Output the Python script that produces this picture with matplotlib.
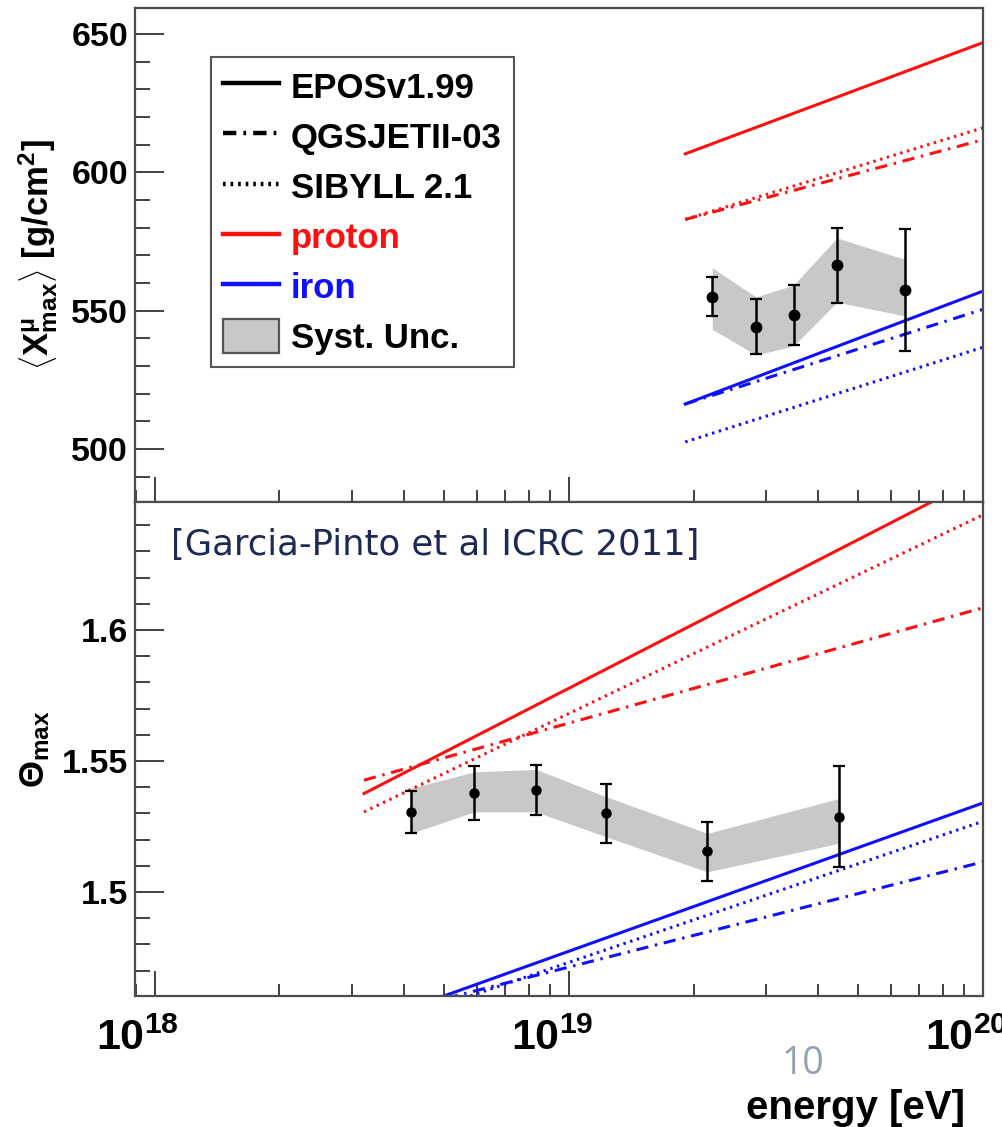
import numpy as np
import matplotlib
matplotlib.use('Agg')
import matplotlib.pyplot as plt
from matplotlib.lines import Line2D
from matplotlib.patches import Patch
from matplotlib.ticker import FixedLocator, FixedFormatter, MultipleLocator, LogLocator, NullFormatter
import matplotlib.transforms as mtrans

plt.rcParams['font.family'] = ['Liberation Sans', 'DejaVu Sans']
plt.rcParams['font.weight'] = 'bold'
plt.rcParams['axes.labelweight'] = 'bold'
plt.rcParams['mathtext.fontset'] = 'custom'
plt.rcParams['mathtext.rm'] = 'Liberation Sans:bold'
plt.rcParams['mathtext.it'] = 'Liberation Sans:bold'
plt.rcParams['mathtext.bf'] = 'Liberation Sans:bold'
plt.rcParams['mathtext.sf'] = 'Liberation Sans:bold'

# ---------------- data: top panel  <X^mu_max> [g/cm^2]
model_energy_top = [1.91e19, 1.0e20]
xmu_proton_epos = [606.7, 646.9]
xmu_proton_qgsjet = [583.0, 611.8]
xmu_proton_sibyll = [583.0, 616.1]
xmu_iron_epos = [516.3, 557.1]
xmu_iron_qgsjet = [516.3, 550.5]
xmu_iron_sibyll = [502.6, 536.8]

data_energy_top = [2.22e19, 2.83e19, 3.49e19, 4.44e19, 6.50e19]
xmu_data = [555.1, 544.3, 548.4, 566.4, 557.5]
xmu_stat = [7.0, 10.0, 10.8, 13.6, 21.9]
xmu_syst_hi = [565.5, 555.0, 559.3, 576.3, 568.5]
xmu_syst_lo = [543.3, 534.0, 537.3, 553.1, 548.1]

# ---------------- data: bottom panel  Theta_max
model_energy_bot = [3.2e18, 1.0e20]
theta_proton_epos = [1.5376, 1.659]
theta_proton_qgsjet = [1.5427, 1.6085]
theta_proton_sibyll = [1.5306, 1.644]
theta_iron_epos = [1.4494, 1.5340]
theta_iron_qgsjet = [1.4515, 1.5115]
theta_iron_sibyll = [1.4465, 1.5270]

data_energy_bot = [4.15e18, 5.91e18, 8.34e18, 1.229e19, 2.16e19, 4.49e19]
theta_data = [1.5306, 1.5379, 1.5389, 1.5300, 1.5156, 1.5287]
theta_stat = [0.0080, 0.0104, 0.0096, 0.0112, 0.0113, 0.0193]
theta_syst_hi = [1.5396, 1.5459, 1.5468, 1.5364, 1.5224, 1.5357]
theta_syst_lo = [1.5224, 1.5306, 1.5306, 1.5211, 1.5077, 1.5186]

x_major = [1e18, 1e19, 1e20]
x_major_labels = [r'$10^{18}$', r'$10^{19}$', r'$10^{20}$']
top_yticks = [500, 550, 600, 650]
bot_yticks = [1.5, 1.55, 1.6]
bot_ytick_labels = ['1.5', '1.55', '1.6']
legend_labels = ['EPOSv1.99', 'QGSJETII-03', 'SIBYLL 2.1', 'proton', 'iron', 'Syst. Unc.']

# ---------------- styles
RED = '#ff1010'
BLUE = '#1010ff'
LS_EPOS = '-'
LS_QGS = (0, (4.0, 2.2, 0.8, 2.2))
LS_SIB = (0, (0.8, 1.5))
LW = 2.2
SPINE = '#4d4d4d'

fig = plt.figure(figsize=(10.02, 11.27), dpi=100)
ax1 = fig.add_axes([0.1347, 0.5546, 0.8463, 0.4383])
ax2 = fig.add_axes([0.1347, 0.1162, 0.8463, 0.4384])

for ax in (ax1, ax2):
    ax.set_xscale('log')
    ax.set_xlim(10 ** 17.952, 1e20)
    ax.xaxis.set_major_locator(FixedLocator(x_major))
    ax.xaxis.set_minor_locator(LogLocator(base=10, subs=np.arange(2, 10), numticks=50))
    ax.xaxis.set_minor_formatter(NullFormatter())
    ax.tick_params(which='both', direction='in', top=False, right=False, color='#333333', width=1.3)
    ax.tick_params(axis='x', which='major', length=18)
    ax.tick_params(axis='x', which='minor', length=9)
    ax.tick_params(axis='y', which='major', length=21, labelsize=24.5, pad=5)
    ax.tick_params(axis='y', which='minor', length=11)
    for s in ax.spines.values():
        s.set_color(SPINE)
        s.set_linewidth(1.6)

# ---------------- top panel
ax1.fill_between(data_energy_top, xmu_syst_lo, xmu_syst_hi, color='#c8c8c8', lw=0, zorder=1)
ax1.plot(model_energy_top, xmu_proton_epos, color=RED, ls=LS_EPOS, lw=LW, zorder=2)
ax1.plot(model_energy_top, xmu_proton_qgsjet, color=RED, ls=LS_QGS, lw=LW, zorder=2)
ax1.plot(model_energy_top, xmu_proton_sibyll, color=RED, ls=LS_SIB, lw=LW, zorder=2)
ax1.plot(model_energy_top, xmu_iron_epos, color=BLUE, ls=LS_EPOS, lw=LW, zorder=2)
ax1.plot(model_energy_top, xmu_iron_qgsjet, color=BLUE, ls=LS_QGS, lw=LW, zorder=2)
ax1.plot(model_energy_top, xmu_iron_sibyll, color=BLUE, ls=LS_SIB, lw=LW, zorder=2)
ax1.errorbar(data_energy_top, xmu_data, yerr=xmu_stat, fmt='o', color='black', ms=7.5,
             elinewidth=1.8, capsize=4.5, capthick=1.6, zorder=3)
ax1.set_ylim(480.9, 659.4)
ax1.yaxis.set_major_locator(FixedLocator(top_yticks))
ax1.yaxis.set_minor_locator(MultipleLocator(10))
ax1.xaxis.set_major_formatter(NullFormatter())
ax1.set_ylabel(r'$\left\langle \mathrm{X}^{\mu}_{\mathrm{max}} \right\rangle$ [g/cm$^{2}$]',
               fontsize=25, fontweight='bold')
ax1.yaxis.set_label_coords(-0.088, 0.5)

handles = [Line2D([], [], color='black', ls=LS_EPOS, lw=3.2),
           Line2D([], [], color='black', ls=(0, (3.0, 1.6, 0.6, 1.6)), lw=3.2),
           Line2D([], [], color='black', ls=(0, (0.6, 1.1)), lw=3.2),
           Line2D([], [], color=RED, ls='-', lw=3.2),
           Line2D([], [], color=BLUE, ls='-', lw=3.2),
           Patch(facecolor='#c8c8c8', edgecolor='#555555', linewidth=1.6)]
leg = ax1.legend(handles, legend_labels, loc='upper left', bbox_to_anchor=(0.0896, 0.9008),
                 borderaxespad=0, fontsize=25, frameon=True, fancybox=False, framealpha=1,
                 edgecolor='#555555', handlelength=1.6, handleheight=1.1, handletextpad=0.35,
                 labelspacing=0.42, borderpad=0.35)
leg.get_frame().set_linewidth(1.5)
leg.get_texts()[3].set_color(RED)
leg.get_texts()[4].set_color(BLUE)

# ---------------- bottom panel
ax2.fill_between(data_energy_bot, theta_syst_lo, theta_syst_hi, color='#c8c8c8', lw=0, zorder=1)
ax2.plot(model_energy_bot, theta_proton_epos, color=RED, ls=LS_EPOS, lw=LW, zorder=2)
ax2.plot(model_energy_bot, theta_proton_qgsjet, color=RED, ls=LS_QGS, lw=LW, zorder=2)
ax2.plot(model_energy_bot, theta_proton_sibyll, color=RED, ls=LS_SIB, lw=LW, zorder=2)
ax2.plot(model_energy_bot, theta_iron_epos, color=BLUE, ls=LS_EPOS, lw=LW, zorder=2)
ax2.plot(model_energy_bot, theta_iron_qgsjet, color=BLUE, ls=LS_QGS, lw=LW, zorder=2)
ax2.plot(model_energy_bot, theta_iron_sibyll, color=BLUE, ls=LS_SIB, lw=LW, zorder=2)
ax2.errorbar(data_energy_bot, theta_data, yerr=theta_stat, fmt='o', color='black', ms=6.5,
             elinewidth=1.8, capsize=4.5, capthick=1.6, zorder=3)
ax2.set_ylim(1.4603, 1.6489)
ax2.yaxis.set_major_locator(FixedLocator(bot_yticks))
ax2.yaxis.set_major_formatter(FixedFormatter(bot_ytick_labels))
ax2.yaxis.set_minor_locator(MultipleLocator(0.01))
ax2.xaxis.set_major_formatter(FixedFormatter(x_major_labels))
ax2.tick_params(axis='x', which='major', labelsize=31, pad=16)
ax2.set_ylabel(r'$\Theta_{\mathrm{max}}$', fontsize=25, fontweight='bold')
ax2.yaxis.set_label_coords(-0.098, 0.5)
ax2.set_xlabel('energy [eV]', fontsize=29, fontweight='bold', loc='right')
ax2.xaxis.set_label_coords(0.979, -0.189)

ax2.text(0.043, 0.8927, '[Garcia-Pinto et al ICRC 2011]', transform=ax2.transAxes,
         fontfamily='DejaVu Sans', fontweight='normal', fontsize=25.5, color='#1c2a55',
         ha='left', va='baseline')
fig.text(782 / 1002, 1 - 1083 / 1127, '10', fontfamily='Open Sans', fontweight='normal',
         fontsize=27, color='#93a0b3', ha='left', va='bottom')

fig.canvas.draw()
shift = mtrans.ScaledTranslation(-17 / 100, 0, fig.dpi_scale_trans)
for tick in ax2.xaxis.get_major_ticks():
    tick.label1.set_transform(tick.label1.get_transform() + shift)

fig.savefig('out.png', dpi=100)
